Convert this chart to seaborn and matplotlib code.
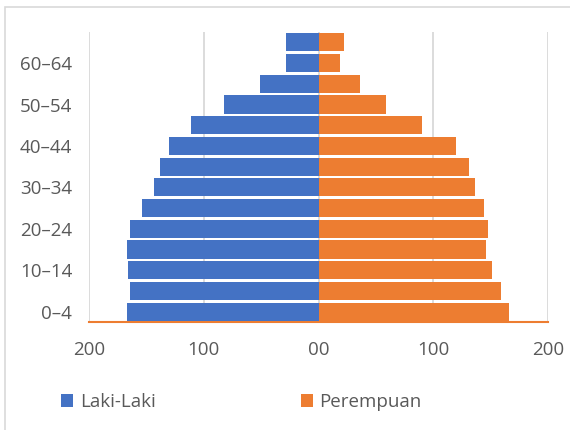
import matplotlib
matplotlib.use("Agg")
import matplotlib.pyplot as plt
from matplotlib.patches import Rectangle, Patch
import numpy as np
import pandas as pd
import seaborn as sns

# Age groups, oldest first so the youngest group sits at the bottom
age_groups = ["65–69", "60–64", "55–59", "50–54", "45–49", "40–44", "35–39",
              "30–34", "25–29", "20–24", "15–19", "10–14", "5–9", "0–4"]
laki_laki = [28, 28, 51, 82, 111, 130, 138, 143, 154, 164, 167, 166, 164, 167]
perempuan = [22, 19, 36, 59, 90, 120, 131, 136, 144, 148, 146, 151, 159, 166]

labeled_groups = ["60–64", "50–54", "40–44", "30–34", "20–24", "10–14", "0–4"]
x_ticks = [-200, -100, 0, 100, 200]
x_tick_labels = ["200", "100", "00", "100", "200"]

series_names = ["Laki-Laki", "Perempuan"]
colors = {"Laki-Laki": "#4472C4", "Perempuan": "#ED7D31"}
text_color = "#595959"
grid_color = "#D9D9D9"

df = pd.DataFrame({
    "age": age_groups * 2,
    "sex": ["Laki-Laki"] * len(age_groups) + ["Perempuan"] * len(age_groups),
    "value": [-v for v in laki_laki] + perempuan,
})

sns.set_theme(style="white")
plt.rcParams["font.family"] = ["Open Sans", "DejaVu Sans"]

fig = plt.figure(figsize=(5.7, 4.3), dpi=100)
ax = fig.add_axes([89 / 570, 1 - 322 / 430, (548 - 89) / 570, (322 - 32) / 430])

sns.barplot(data=df, x="value", y="age", hue="sex", order=age_groups,
            hue_order=series_names, palette=colors, saturation=1, dodge=False,
            width=0.88, orient="h", ax=ax, legend=False,
            edgecolor="none", linewidth=0, zorder=3)

ax.set_xlim(-200, 200)
ax.set_ylim(len(age_groups) - 0.5, -0.5)

# vertical grid lines
ax.set_xticks(x_ticks)
ax.set_xticklabels(x_tick_labels)
ax.xaxis.grid(True, color=grid_color, linewidth=1.3, zorder=0)
ax.yaxis.grid(False)
ax.set_axisbelow(True)

ax.set_yticks([age_groups.index(g) for g in labeled_groups])
ax.set_yticklabels(labeled_groups)

ax.tick_params(axis="x", length=0, pad=14, labelsize=13.5, labelcolor=text_color)
ax.tick_params(axis="y", length=0, pad=12, labelsize=13.5, labelcolor=text_color)
ax.set_xlabel("")
ax.set_ylabel("")

for side in ["top", "right", "left"]:
    ax.spines[side].set_visible(False)
ax.spines["bottom"].set_color("#ED7D31")
ax.spines["bottom"].set_linewidth(1.5)

handles = [Patch(facecolor=colors[n], edgecolor="none") for n in series_names]
fig.legend(handles, series_names, loc="center left",
           bbox_to_anchor=(61 / 570, 1 - 402 / 430), ncol=2, frameon=False,
           fontsize=13.5, labelcolor=text_color, handlelength=0.65,
           handleheight=0.65, handletextpad=0.35, columnspacing=7.75,
           borderpad=0, borderaxespad=0)

# chart area border
fig.patches.append(Rectangle((5 / 570, -0.1), 1.2, 1 - 7 / 430 + 0.1,
                             transform=fig.transFigure, fill=False,
                             edgecolor="#D9D9D9", linewidth=1.2))

fig.savefig("out.png", dpi=100)
